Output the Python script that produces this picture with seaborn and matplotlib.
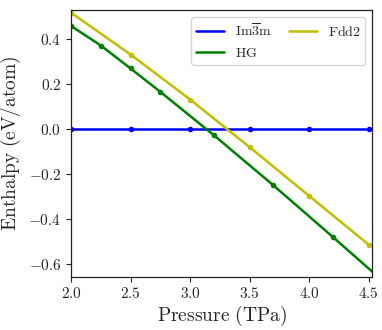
import numpy as np
import pandas as pd
import seaborn as sns
import matplotlib
matplotlib.use("Agg")
import matplotlib.pyplot as plt
from matplotlib.ticker import FuncFormatter
from matplotlib.lines import Line2D

# Data
im3m_p = [2.0, 2.5, 3.0, 3.5, 4.0, 4.5]
im3m_h = [0.0, 0.0, 0.0, 0.0, 0.0, 0.0]
hg_p = [2.0, 2.25, 2.5, 2.75, 3.2, 3.7, 4.2, 4.7]
hg_h = [0.459, 0.372, 0.270, 0.166, -0.027, -0.250, -0.480, -0.713]
fdd2_p = [2.0, 2.5, 3.0, 3.5, 4.0, 4.5]
fdd2_h = [0.518, 0.332, 0.132, -0.080, -0.297, -0.514]

names = [r'$\mathrm{Im\overline{3}m}$', r'$\mathrm{HG}$', r'$\mathrm{Fdd2}$']
colors = ['#0000ff', '#008000', '#bfbf00']
xticks = [2.0, 2.5, 3.0, 3.5, 4.0, 4.5]
yticks = [-0.6, -0.4, -0.2, 0.0, 0.2, 0.4]

df = pd.concat([
    pd.DataFrame({'P': im3m_p, 'H': im3m_h, 'phase': names[0]}),
    pd.DataFrame({'P': hg_p, 'H': hg_h, 'phase': names[1]}),
    pd.DataFrame({'P': fdd2_p, 'H': fdd2_h, 'phase': names[2]}),
])

sns.set_style("ticks")
plt.rcParams['mathtext.fontset'] = 'cm'
plt.rcParams['font.family'] = ['DejaVu Serif']

fig = plt.figure(figsize=(3.82, 3.30), dpi=100)
ax = fig.add_axes([0.186, 0.1615, 0.7886, 0.8082])

sns.lineplot(data=df, x='P', y='H', hue='phase', hue_order=names,
             palette=colors, marker='o', markersize=4, markeredgewidth=0,
             linewidth=1.8, ax=ax, legend=False, sort=False)

ax.set_xlim(2.0, 4.53)
ax.set_ylim(-0.656, 0.530)
ax.set_xticks(xticks)
ax.set_yticks(yticks)
fmt = FuncFormatter(lambda v, pos: r'$%.1f$' % v)
ax.xaxis.set_major_formatter(fmt)
ax.yaxis.set_major_formatter(fmt)
ax.tick_params(axis='both', labelsize=11, length=3.5, width=0.8, direction='out')
for s in ax.spines.values():
    s.set_visible(True)
    s.set_linewidth(0.9)
    s.set_color('#222222')

ax.set_xlabel(r'$\mathrm{Pressure\ (TPa)}$', fontsize=14, labelpad=2)
ax.set_ylabel(r'$\mathrm{Enthalpy\ (eV/atom)}$', fontsize=14, labelpad=4)

handles = [Line2D([], [], color=c, lw=1.8) for c in colors]
ax.legend(handles, names, ncol=2, loc='upper right', fontsize=10,
          frameon=True, framealpha=0.8, edgecolor='#cccccc',
          handlelength=2.0, handletextpad=0.8, columnspacing=1.2,
          borderpad=0.35, borderaxespad=0.5)

fig.savefig('out.png', dpi=100)
